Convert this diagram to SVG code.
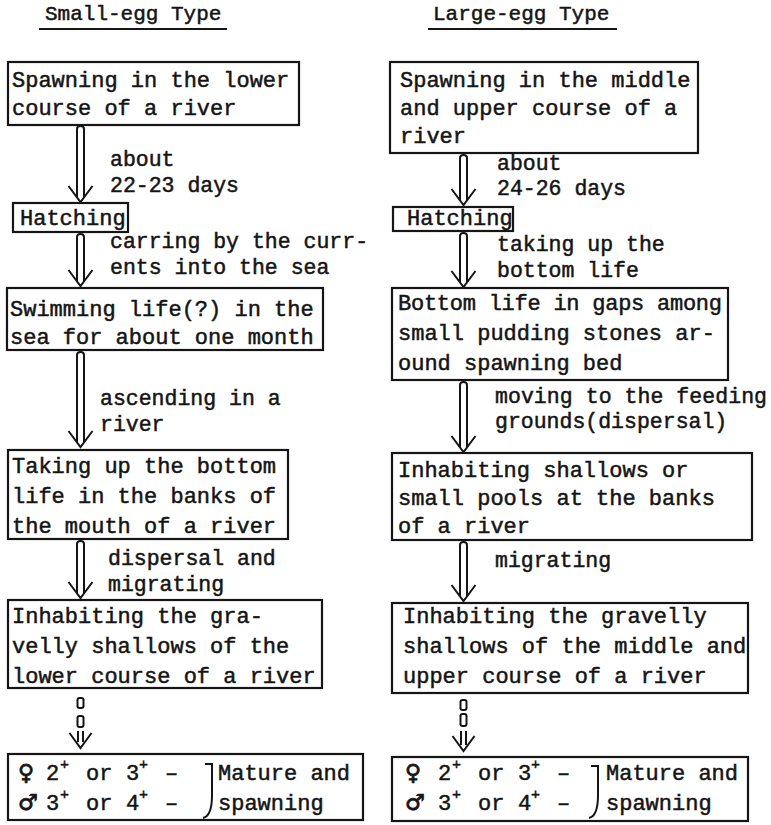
<svg xmlns="http://www.w3.org/2000/svg" width="771" height="825" viewBox="0 0 771 825">
<style>
text{font-family:"Liberation Mono","Courier New",monospace;font-size:22px;fill:#151515;stroke:#151515;stroke-width:0.5}
.t{font-size:21px}
.lb{font-size:21.5px}
.sym{font-family:"DejaVu Sans",sans-serif;font-size:22px;stroke-width:0.8}
.sup{font-size:15px}
.box{fill:none;stroke:#151515;stroke-width:2.2}
.ar{fill:none;stroke:#151515;stroke-width:2;stroke-linejoin:miter}
.ul{stroke:#151515;stroke-width:2}
</style>
<rect width="771" height="825" fill="#fff"/>
<g id="titles">
<text class="t" x="45" y="20">Small-egg Type</text>
<line class="ul" x1="39" y1="29" x2="227" y2="29"/>
<text class="t" x="433" y="20">Large-egg Type</text>
<line class="ul" x1="428" y1="29" x2="617" y2="29"/>
</g>
<g id="L1"><rect class="box" x="8" y="62" width="291" height="63"/>
<text x="12" y="87">Spawning in the lower</text><text x="12" y="115">course of a river</text></g>
<g id="LH"><rect class="box" x="13" y="203" width="115" height="29"/>
<text x="20" y="225">Hatching</text></g>
<g id="L2"><rect class="box" x="7" y="288" width="316" height="62"/>
<text x="10" y="316">Swimming life(?) in the</text><text x="10" y="344">sea for about one month</text></g>
<g id="L3"><rect class="box" x="8" y="450" width="280" height="89"/>
<text x="12" y="473">Taking up the bottom</text><text x="12" y="503">life in the banks of</text><text x="12" y="533">the mouth of a river</text></g>
<g id="L4"><rect class="box" x="8" y="600" width="314" height="88"/>
<text x="12" y="623">Inhabiting the gra-</text><text x="12" y="653">velly shallows of the</text><text x="12" y="683">lower course of a river</text></g>
<g id="L5"><rect class="box" x="8" y="754" width="355" height="66"/>
<text class="sym" x="18" y="780">♀</text><text x="46" y="780">2</text><text class="sup" x="60" y="769">+</text><text x="86" y="780">or</text><text x="126" y="780">3</text><text class="sup" x="139" y="769">+</text><text x="165" y="780">–</text>
<text class="sym" x="18" y="810">♂</text><text x="46" y="810">3</text><text class="sup" x="60" y="799">+</text><text x="86" y="810">or</text><text x="126" y="810">4</text><text class="sup" x="139" y="799">+</text><text x="165" y="810">–</text>
<path class="ar" d="M205,764 L212,764 L212,795 Q212,816 203,818"/>
<text x="218" y="780">Mature and</text><text x="218" y="810">spawning</text></g>
<g id="R1"><rect class="box" x="390" y="62" width="308" height="91"/>
<text x="400" y="87">Spawning in the middle</text><text x="400" y="115">and upper course of a</text><text x="400" y="143">river</text></g>
<g id="RH"><rect class="box" x="393" y="207" width="120" height="24"/>
<text x="407" y="225">Hatching</text></g>
<g id="R2"><rect class="box" x="392" y="288" width="336" height="92"/>
<text x="398" y="310" textLength="324" lengthAdjust="spacing">Bottom life in gaps among</text><text x="398" y="340">small pudding stones ar-</text><text x="398" y="370">ound spawning bed</text></g>
<g id="R3"><rect class="box" x="392" y="453" width="360" height="87"/>
<text x="398" y="477">Inhabiting shallows or</text><text x="398" y="505">small pools at the banks</text><text x="398" y="533">of a river</text></g>
<g id="R4"><rect class="box" x="392" y="603" width="356" height="90"/>
<text x="403" y="623">Inhabiting the gravelly</text><text x="403" y="653">shallows of the middle and</text><text x="403" y="683">upper course of a river</text></g>
<g id="R5"><rect class="box" x="392" y="757" width="356" height="64"/>
<text class="sym" x="405" y="780">♀</text><text x="438" y="780">2</text><text class="sup" x="452" y="769">+</text><text x="478" y="780">or</text><text x="518" y="780">3</text><text class="sup" x="531" y="769">+</text><text x="557" y="780">–</text>
<text class="sym" x="405" y="810">♂</text><text x="438" y="810">3</text><text class="sup" x="452" y="799">+</text><text x="478" y="810">or</text><text x="518" y="810">4</text><text class="sup" x="531" y="799">+</text><text x="557" y="810">–</text>
<path class="ar" d="M591,766 L598,766 L598,795 Q598,816 589,818"/>
<text x="606" y="780">Mature and</text><text x="606" y="810">spawning</text></g>
<g id="connectors">
<path class="ar" d="M77,197 V129 Q77,126 80.5,126 Q84,126 84,129 V197 M68.5,186 L80.5,202 L92.5,186"/>
<path class="ar" d="M77,281 V237 Q77,234 80.5,234 Q84,234 84,237 V281 M68.5,270 L80.5,286 L92.5,270"/>
<path class="ar" d="M77,442 V355 Q77,352 80.5,352 Q84,352 84,355 V442 M68.5,431 L80.5,447 L92.5,431"/>
<path class="ar" d="M77,593 V544 Q77,541 80.5,541 Q84,541 84,544 V593 M68.5,582 L80.5,598 L92.5,582"/>
<rect class="ar" x="77.5" y="698" width="6" height="10" rx="2" stroke-width="2.5"/>
<rect class="ar" x="77.5" y="716" width="6" height="11" rx="2" stroke-width="2.5"/>
<path class="ar" d="M78,731 V742 M83,731 V742 M69.5,733 L80.5,748 L91.5,733" stroke-width="2.5"/>
<path class="ar" d="M460,200 V158 Q460,155 463.5,155 Q467,155 467,158 V200 M451.5,189 L463.5,205 L475.5,189"/>
<path class="ar" d="M460,282 V236 Q460,233 463.5,233 Q467,233 467,236 V282 M451.5,271 L463.5,287 L475.5,271"/>
<path class="ar" d="M460,447 V385 Q460,382 463.5,382 Q467,382 467,385 V447 M451.5,436 L463.5,452 L475.5,436"/>
<path class="ar" d="M460,596 V545 Q460,542 463.5,542 Q467,542 467,545 V596 M451.5,585 L463.5,601 L475.5,585"/>
<rect class="ar" x="460.5" y="700" width="6" height="10" rx="2" stroke-width="2.5"/>
<rect class="ar" x="460.5" y="714" width="6" height="12" rx="2" stroke-width="2.5"/>
<path class="ar" d="M461,731 V745 M466,731 V745 M452.5,736 L463.5,751 L474.5,736" stroke-width="2.5"/>
<text class="lb" x="110" y="166">about</text><text class="lb" x="110" y="192">22-23 days</text>
<text class="lb" x="110" y="248">carring by the curr-</text><text class="lb" x="110" y="274">ents into the sea</text>
<text class="lb" x="100" y="405">ascending in a</text><text class="lb" x="100" y="431">river</text>
<text class="lb" x="108" y="565">dispersal and</text><text class="lb" x="108" y="591">migrating</text>
<text class="lb" x="497" y="170">about</text><text class="lb" x="497" y="195">24-26 days</text>
<text class="lb" x="497" y="251">taking up the</text><text class="lb" x="497" y="277">bottom life</text>
<text class="lb" x="495" y="403" textLength="272" lengthAdjust="spacing">moving to the feeding</text><text class="lb" x="495" y="428">grounds(dispersal)</text>
<text class="lb" x="495" y="567">migrating</text>
</g>
</svg>
